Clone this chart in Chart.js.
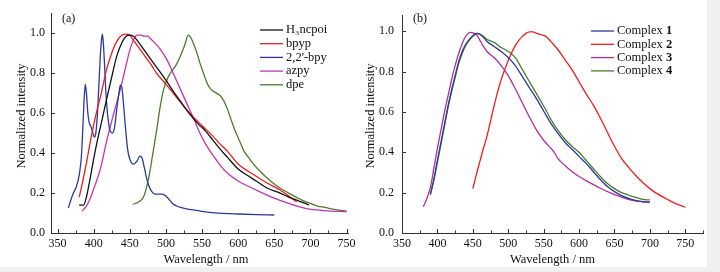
<!DOCTYPE html>
<html>
<head>
<meta charset="utf-8">
<script src="https://cdn.jsdelivr.net/npm/chart.js@4.4.0/dist/chart.umd.min.js"></script>
<style>
html, body { margin: 0; padding: 0; background: #f0f0f0; }
#wrap { position: relative; width: 720px; height: 272px; overflow: hidden; }
#paper { position: absolute; left: 0; top: 0; width: 707px; height: 267px; background: #fff; }
canvas { position: absolute; top: 0; }
#chartA { left: 0; }
#chartB { left: 360px; }
</style>
</head>
<body>
<div id="wrap">
  <div id="paper"></div>
  <canvas id="chartA" width="360" height="272"></canvas>
  <canvas id="chartB" width="360" height="272"></canvas>
</div>
<script>
// ---- tick labels ----
const xTicks = [350, 400, 450, 500, 550, 600, 650, 700, 750];
const xMinorTicks = [375, 425, 475, 525, 575, 625, 675, 725, 775];
const yTicks = [0, 0.2, 0.4, 0.6, 0.8, 1.0];

// ---- panel (a): ligands ----
const h3ncpoiX = [380, 386, 390, 395, 400, 405, 410, 418, 425, 432, 440, 445, 450, 455, 460, 468, 475, 487, 500, 510, 520, 533, 545, 555, 565, 575, 585, 600, 612, 625, 640, 658, 670, 681, 690, 698];
const h3ncpoiY = [0.14, 0.14, 0.18, 0.27, 0.37, 0.46, 0.54, 0.67, 0.78, 0.885, 0.96, 0.985, 0.99, 0.985, 0.965, 0.925, 0.89, 0.83, 0.765, 0.71, 0.66, 0.595, 0.545, 0.51, 0.465, 0.42, 0.38, 0.32, 0.29, 0.26, 0.225, 0.2, 0.18, 0.165, 0.152, 0.14];

const bpypX = [380, 385, 390, 395, 400, 405, 410, 418, 427, 433, 439, 445, 450, 455, 460, 470, 480, 487, 500, 510, 520, 533, 545, 555, 565, 575, 585, 600, 620, 640, 658, 670, 681];
const bpypY = [0.18, 0.26, 0.35, 0.45, 0.54, 0.62, 0.69, 0.82, 0.92, 0.965, 0.99, 0.995, 0.99, 0.965, 0.94, 0.89, 0.84, 0.80, 0.745, 0.70, 0.655, 0.60, 0.555, 0.52, 0.485, 0.445, 0.41, 0.345, 0.295, 0.25, 0.215, 0.185, 0.155];

const bpyX = [365, 368, 372, 376, 380, 383, 385, 387, 388.5, 390, 392, 394, 396, 399, 401, 403, 405, 407, 409, 411, 412, 413, 415, 417, 420, 423, 426, 429, 432, 435, 437, 439, 441, 444, 447, 450, 455, 460, 464, 467, 470, 473, 476, 480, 485, 490, 495, 500, 505, 510, 515, 520, 530, 540, 550, 560, 580, 600, 625, 650];
const bpyY = [0.125, 0.16, 0.2, 0.23, 0.29, 0.38, 0.52, 0.68, 0.745, 0.70, 0.60, 0.55, 0.535, 0.50, 0.48, 0.50, 0.58, 0.72, 0.87, 0.97, 0.995, 0.97, 0.85, 0.70, 0.57, 0.51, 0.50, 0.53, 0.62, 0.70, 0.74, 0.73, 0.66, 0.53, 0.42, 0.37, 0.345, 0.36, 0.385, 0.375, 0.33, 0.28, 0.24, 0.21, 0.195, 0.195, 0.195, 0.185, 0.165, 0.145, 0.135, 0.128, 0.12, 0.115, 0.108, 0.103, 0.098, 0.095, 0.092, 0.09];

const azpyX = [384, 390, 395, 400, 405, 410, 418, 425, 437, 445, 450, 455, 460, 465, 470, 475, 478, 485, 492, 501, 510, 520, 530, 540, 547, 555, 565, 575, 585, 600, 625, 640, 658, 675, 695, 720, 750];
const azpyY = [0.11, 0.135, 0.17, 0.22, 0.27, 0.33, 0.46, 0.56, 0.72, 0.84, 0.915, 0.965, 0.99, 0.99, 0.985, 0.985, 0.975, 0.95, 0.92, 0.87, 0.80, 0.72, 0.64, 0.56, 0.50, 0.445, 0.39, 0.34, 0.30, 0.26, 0.215, 0.19, 0.163, 0.142, 0.122, 0.112, 0.106];

const dpeX = [454, 462, 469, 474, 478, 482, 487, 492, 497, 503, 508, 514, 520, 526, 531, 534, 538, 543, 548, 552, 557, 562, 570, 577, 584, 590, 596, 602, 608, 614, 620, 630, 640, 650, 660, 672, 685, 695, 710, 720, 735, 750];
const dpeY = [0.143, 0.155, 0.18, 0.24, 0.31, 0.40, 0.51, 0.63, 0.72, 0.78, 0.81, 0.84, 0.885, 0.94, 0.99, 0.98, 0.95, 0.90, 0.84, 0.80, 0.75, 0.72, 0.70, 0.68, 0.63, 0.57, 0.51, 0.46, 0.41, 0.38, 0.35, 0.31, 0.275, 0.245, 0.22, 0.196, 0.17, 0.154, 0.135, 0.128, 0.117, 0.11];

// ---- panel (b): complexes ----
const complex1X = [390, 395, 400, 405, 410, 415, 420, 425, 430, 435, 440, 445, 450, 455, 460, 465, 470, 480, 490, 500, 510, 520, 530, 540, 550, 560, 570, 580, 590, 600, 610, 620, 630, 640, 650, 660, 670, 680, 690, 700];
const complex1Y = [0.19, 0.27, 0.36, 0.45, 0.54, 0.63, 0.71, 0.78, 0.85, 0.90, 0.935, 0.96, 0.978, 0.99, 0.985, 0.97, 0.95, 0.925, 0.90, 0.87, 0.83, 0.775, 0.72, 0.665, 0.605, 0.545, 0.495, 0.45, 0.415, 0.38, 0.345, 0.305, 0.265, 0.23, 0.205, 0.185, 0.172, 0.162, 0.156, 0.153];

const complex2X = [450, 455, 460, 465, 470, 475, 480, 485, 490, 495, 500, 505, 510, 515, 520, 525, 530, 535, 540, 545, 550, 555, 560, 570, 580, 590, 600, 610, 620, 630, 640, 650, 660, 670, 680, 690, 700, 710, 723, 735, 750];
const complex2Y = [0.22, 0.29, 0.355, 0.42, 0.48, 0.555, 0.63, 0.70, 0.76, 0.81, 0.855, 0.895, 0.93, 0.955, 0.975, 0.99, 0.997, 0.997, 0.99, 0.985, 0.98, 0.97, 0.95, 0.91, 0.86, 0.81, 0.75, 0.69, 0.635, 0.57, 0.50, 0.43, 0.37, 0.325, 0.285, 0.25, 0.22, 0.195, 0.17, 0.148, 0.128];

const complex3X = [380, 385, 390, 395, 400, 405, 410, 415, 420, 425, 430, 435, 440, 446, 452, 456, 460, 465, 470, 480, 490, 500, 510, 520, 530, 540, 550, 560, 565, 570, 580, 590, 600, 615, 630, 645, 660, 675, 690, 700];
const complex3Y = [0.13, 0.17, 0.225, 0.32, 0.42, 0.51, 0.60, 0.68, 0.76, 0.83, 0.89, 0.94, 0.975, 0.995, 0.99, 0.98, 0.955, 0.925, 0.90, 0.87, 0.83, 0.78, 0.715, 0.645, 0.575, 0.51, 0.46, 0.42, 0.40, 0.37, 0.335, 0.305, 0.28, 0.25, 0.222, 0.198, 0.178, 0.162, 0.155, 0.153];

const complex4X = [390, 395, 400, 405, 410, 415, 420, 425, 430, 435, 440, 445, 450, 457, 463, 470, 480, 490, 500, 510, 520, 530, 540, 550, 560, 570, 580, 590, 600, 610, 620, 630, 640, 650, 660, 670, 680, 690, 700];
const complex4Y = [0.19, 0.26, 0.35, 0.44, 0.53, 0.62, 0.70, 0.77, 0.84, 0.89, 0.93, 0.955, 0.975, 0.99, 0.98, 0.96, 0.945, 0.92, 0.90, 0.87, 0.81, 0.75, 0.69, 0.63, 0.565, 0.51, 0.465, 0.43, 0.40, 0.36, 0.32, 0.28, 0.245, 0.22, 0.20, 0.188, 0.177, 0.167, 0.164];

const SERIF = '"Liberation Serif", "Times New Roman", serif';
const INK = '#111';

function series(label, xs, ys, color) {
    return {
        label: label,
        data: xs.map((x, i) => ({ x: x, y: ys[i] })),
        borderColor: color,
        backgroundColor: color
    };
}

// inward ticks, axis titles, panel letter and the legend
const axisDecor = {
    id: 'axisDecor',
    afterDraw(chart, args, opts) {
        const { ctx, chartArea: a, scales: { x, y } } = chart;
        ctx.save();
        ctx.strokeStyle = '#333';
        ctx.lineWidth = 1;
        ctx.beginPath();
        xTicks.forEach(v => {
            const px = Math.round(x.getPixelForValue(v)) + 0.5;
            ctx.moveTo(px, a.bottom);
            ctx.lineTo(px, a.bottom - 4);
        });
        xMinorTicks.forEach(v => {
            if (v > x.max) return;
            const px = Math.round(x.getPixelForValue(v)) + 0.5;
            ctx.moveTo(px, a.bottom);
            ctx.lineTo(px, a.bottom - 2.5);
        });
        yTicks.forEach(v => {
            const py = Math.round(y.getPixelForValue(v)) + 0.5;
            ctx.moveTo(a.left, py);
            ctx.lineTo(a.left + 4, py);
        });
        ctx.stroke();

        ctx.fillStyle = INK;
        ctx.font = '12.5px ' + SERIF;
        ctx.textBaseline = 'alphabetic';
        ctx.textAlign = 'center';
        ctx.fillText('Wavelength / nm', opts.xTitleX, 263);
        ctx.save();
        ctx.translate(opts.yTitleX, 116);
        ctx.rotate(-Math.PI / 2);
        ctx.fillText('Normalized intensity', 0, 0);
        ctx.restore();
        ctx.textAlign = 'left';
        ctx.font = '12px ' + SERIF;
        ctx.fillText(opts.panel, opts.panelX, 22);

        // legend
        chart.data.datasets.forEach((ds, i) => {
            const ry = opts.legendY + i * opts.legendGap;
            ctx.strokeStyle = ds.borderColor;
            ctx.lineWidth = 1.3;
            ctx.beginPath();
            ctx.moveTo(opts.legendX, ry);
            ctx.lineTo(opts.legendX + 23, ry);
            ctx.stroke();
            ctx.textBaseline = 'middle';
            let tx = opts.legendX + 26;
            const m = opts.boldNumber ? ds.label.match(/^(.*?)(\d+)$/) : null;
            if (m) {
                ctx.font = '12.5px ' + SERIF;
                ctx.fillText(m[1], tx, ry);
                tx += ctx.measureText(m[1]).width;
                ctx.font = 'bold 12.5px ' + SERIF;
                ctx.fillText(m[2], tx, ry);
            } else {
                ctx.font = '12.5px ' + SERIF;
                ctx.fillText(ds.label, tx, ry);
            }
        });
        ctx.restore();
    }
};

function makeChart(id, datasets, cfg) {
    return new Chart(document.getElementById(id), {
        type: 'line',
        data: { datasets: datasets },
        options: {
            responsive: false,
            animation: false,
            devicePixelRatio: 1,
            layout: { padding: { left: 0, right: cfg.padRight, top: cfg.padTop, bottom: 0 } },
            elements: {
                point: { radius: 0 },
                line: { borderWidth: 1.3, cubicInterpolationMode: 'monotone' }
            },
            plugins: {
                legend: { display: false },
                tooltip: { enabled: false },
                axisDecor: cfg.decor
            },
            scales: {
                x: {
                    type: 'linear',
                    min: cfg.xMin,
                    max: cfg.xMax,
                    afterBuildTicks: s => { s.ticks = xTicks.map(v => ({ value: v })); },
                    afterFit: s => { s.height = cfg.xAxisH; },
                    grid: { display: false, drawTicks: false },
                    border: { color: '#333', width: 1 },
                    ticks: { font: { family: SERIF, size: 12 }, color: INK, padding: 4, maxRotation: 0, autoSkip: false }
                },
                y: {
                    min: 0,
                    max: cfg.yMax,
                    afterBuildTicks: s => { s.ticks = yTicks.map(v => ({ value: v })); },
                    afterFit: s => { s.width = cfg.yAxisW; },
                    grid: { display: false, drawTicks: false },
                    border: { color: '#333', width: 1 },
                    ticks: {
                        font: { family: SERIF, size: 12 }, color: INK, padding: cfg.yPad,
                        callback: v => v.toFixed(1)
                    }
                }
            }
        },
        plugins: [axisDecor]
    });
}

makeChart('chartA', [
    series('H₃ncpoi', h3ncpoiX, h3ncpoiY, '#111111'),
    series('bpyp', bpypX, bpypY, '#f21c1c'),
    series("2,2'-bpy", bpyX, bpyY, '#2b3a9e'),
    series('azpy', azpyX, azpyY, '#c832b4'),
    series('dpe', dpeX, dpeY, '#4a7d2b')
], {
    xMin: 341, xMax: 752, yMax: 1.1,
    padTop: 9, padRight: 12, xAxisH: 39, yAxisW: 51, yPad: 6,
    decor: { xTitleX: 206, yTitleX: 25, panel: '(a)', panelX: 62, legendX: 260, legendY: 30, legendGap: 13.7, boldNumber: false }
});

makeChart('chartB', [
    series('Complex 1', complex1X, complex1Y, '#2b3a9e'),
    series('Complex 2', complex2X, complex2Y, '#f21c1c'),
    series('Complex 3', complex3X, complex3Y, '#b02ea0'),
    series('Complex 4', complex4X, complex4Y, '#4a7d2b')
], {
    xMin: 350, xMax: 775, yMax: 1.08,
    padTop: 10, padRight: 17, xAxisH: 39, yAxisW: 42, yPad: 8,
    decor: { xTitleX: 192.5, yTitleX: 13.5, panel: '(b)', panelX: 53, legendX: 231, legendY: 31, legendGap: 13.3, boldNumber: true }
});
</script>
</body>
</html>
